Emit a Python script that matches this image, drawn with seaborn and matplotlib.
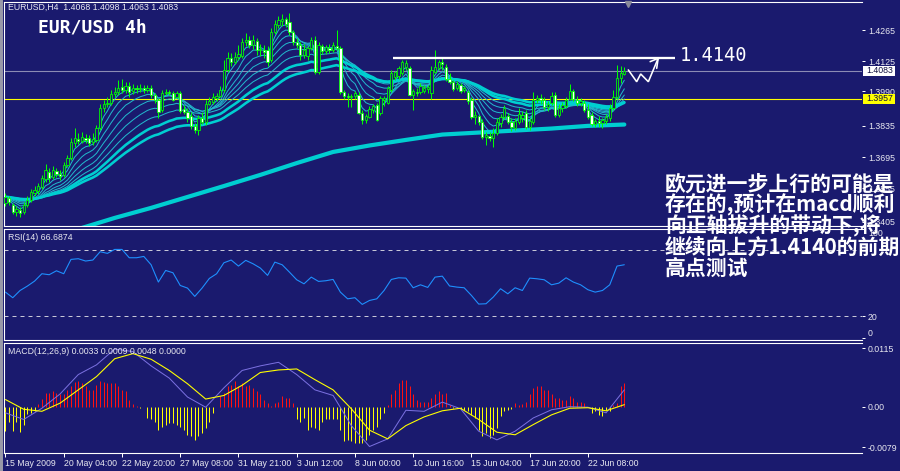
import numpy as np
import pandas as pd
import matplotlib
matplotlib.use("Agg")
import matplotlib.pyplot as plt
from matplotlib.patches import Rectangle
import seaborn as sns

# ---------------- data (EURUSD H4, one entry per bar) ----------------
OPENS = [1.3489, 1.3511, 1.3480, 1.3449, 1.3457, 1.3449, 1.3480, 1.3502, 1.3534, 1.3543,
         1.3561, 1.3597, 1.3628, 1.3606, 1.3633, 1.3619, 1.3615, 1.3659, 1.3691, 1.3758,
         1.3776, 1.3767, 1.3781, 1.3781, 1.3763, 1.3772, 1.3826, 1.3915, 1.3933, 1.3938,
         1.3978, 1.3987, 1.4010, 1.3996, 1.4014, 1.3992, 1.4005, 1.4001, 1.4005, 1.3996,
         1.4005, 1.3974, 1.3951, 1.3906, 1.3983, 1.3987, 1.3983, 1.3965, 1.3983, 1.3911,
         1.3897, 1.3879, 1.3835, 1.3817, 1.3870, 1.3852, 1.3933, 1.3942, 1.3960, 1.3969,
         1.3996, 1.4086, 1.4140, 1.4122, 1.4144, 1.4149, 1.4212, 1.4220, 1.4198, 1.4216,
         1.4176, 1.4176, 1.4176, 1.4131, 1.4256, 1.4288, 1.4306, 1.4315, 1.4301, 1.4256,
         1.4212, 1.4198, 1.4153, 1.4149, 1.4185, 1.4220, 1.4077, 1.4194, 1.4171, 1.4185,
         1.4176, 1.4194, 1.4185, 1.3987, 1.3969, 1.3965, 1.3969, 1.3974, 1.3893, 1.3861,
         1.3875, 1.3906, 1.3929, 1.3893, 1.3951, 1.3938, 1.3996, 1.4054, 1.4059, 1.4072,
         1.4099, 1.4095, 1.3974, 1.3987, 1.3987, 1.3992, 1.4001, 1.3983, 1.4077, 1.4095,
         1.4122, 1.4099, 1.4045, 1.4032, 1.4005, 1.4019, 1.3996, 1.3987, 1.3951, 1.3875,
         1.3879, 1.3852, 1.3785, 1.3790, 1.3781, 1.3803, 1.3848, 1.3875, 1.3879, 1.3852,
         1.3826, 1.3852, 1.3870, 1.3893, 1.3830, 1.3852, 1.3951, 1.3960, 1.3951, 1.3920,
         1.3938, 1.3974, 1.3884, 1.3915, 1.3924, 1.3956, 1.3992, 1.3951, 1.3938, 1.3938,
         1.3906, 1.3884, 1.3843, 1.3857, 1.3848, 1.3857, 1.3870, 1.3915, 1.3965, 1.4050,
         1.4068]
HIGHS = [1.3534, 1.3520, 1.3489, 1.3475, 1.3471, 1.3493, 1.3520, 1.3552, 1.3565, 1.3579,
         1.3615, 1.3664, 1.3646, 1.3655, 1.3646, 1.3637, 1.3673, 1.3704, 1.3781, 1.3826,
         1.3803, 1.3808, 1.3799, 1.3794, 1.3803, 1.3839, 1.3933, 1.3951, 1.3965, 1.3996,
         1.4010, 1.4041, 1.4045, 1.4032, 1.4032, 1.4023, 1.4019, 1.4023, 1.4019, 1.4019,
         1.4019, 1.3983, 1.3960, 1.3996, 1.4001, 1.3996, 1.3992, 1.3992, 1.3992, 1.3929,
         1.3915, 1.3897, 1.3848, 1.3884, 1.3897, 1.3951, 1.3965, 1.3983, 1.3983, 1.4014,
         1.4131, 1.4167, 1.4162, 1.4167, 1.4198, 1.4229, 1.4252, 1.4238, 1.4243, 1.4229,
         1.4203, 1.4198, 1.4194, 1.4274, 1.4310, 1.4328, 1.4337, 1.4324, 1.4342, 1.4265,
         1.4229, 1.4212, 1.4203, 1.4194, 1.4234, 1.4238, 1.4212, 1.4203, 1.4198, 1.4203,
         1.4212, 1.4265, 1.4194, 1.3996, 1.3983, 1.3978, 1.3992, 1.3987, 1.3906, 1.3888,
         1.3924, 1.3933, 1.3938, 1.3969, 1.3969, 1.4014, 1.4086, 1.4081, 1.4104, 1.4131,
         1.4131, 1.4104, 1.4001, 1.4005, 1.4027, 1.4019, 1.4019, 1.4104, 1.4176, 1.4131,
         1.4140, 1.4113, 1.4072, 1.4041, 1.4036, 1.4027, 1.4014, 1.3996, 1.3965, 1.3902,
         1.3884, 1.3866, 1.3808, 1.3808, 1.3826, 1.3870, 1.3888, 1.3929, 1.3893, 1.3870,
         1.3870, 1.3915, 1.3902, 1.3906, 1.3870, 1.3987, 1.3974, 1.3978, 1.3965, 1.3947,
         1.3987, 1.3987, 1.3933, 1.3942, 1.3965, 1.4023, 1.4001, 1.3969, 1.3960, 1.3951,
         1.3933, 1.3897, 1.3866, 1.3879, 1.3870, 1.3888, 1.3933, 1.3996, 1.4108, 1.4104,
         1.4098]
LOWS = [1.3475, 1.3480, 1.3440, 1.3431, 1.3426, 1.3440, 1.3471, 1.3493, 1.3520, 1.3529,
        1.3552, 1.3583, 1.3583, 1.3597, 1.3606, 1.3592, 1.3606, 1.3650, 1.3682, 1.3740,
        1.3754, 1.3758, 1.3758, 1.3745, 1.3749, 1.3763, 1.3817, 1.3897, 1.3920, 1.3929,
        1.3965, 1.3974, 1.3983, 1.3983, 1.3965, 1.3978, 1.3983, 1.3987, 1.3983, 1.3987,
        1.3960, 1.3938, 1.3870, 1.3897, 1.3974, 1.3974, 1.3947, 1.3960, 1.3893, 1.3888,
        1.3852, 1.3821, 1.3803, 1.3794, 1.3843, 1.3839, 1.3929, 1.3933, 1.3947, 1.3965,
        1.3987, 1.4077, 1.4104, 1.4113, 1.4131, 1.4140, 1.4194, 1.4185, 1.4180, 1.4153,
        1.4149, 1.4140, 1.4104, 1.4122, 1.4247, 1.4274, 1.4283, 1.4279, 1.4243, 1.4198,
        1.4185, 1.4131, 1.4140, 1.4131, 1.4176, 1.4068, 1.4068, 1.4158, 1.4158, 1.4162,
        1.4167, 1.4176, 1.3978, 1.3956, 1.3920, 1.3920, 1.3956, 1.3888, 1.3843, 1.3848,
        1.3870, 1.3893, 1.3857, 1.3884, 1.3924, 1.3933, 1.3987, 1.4041, 1.4045, 1.4063,
        1.4086, 1.3969, 1.3906, 1.3969, 1.3978, 1.3983, 1.3983, 1.3956, 1.4072, 1.4086,
        1.4086, 1.4036, 1.4023, 1.3992, 1.3996, 1.3983, 1.3987, 1.3933, 1.3866, 1.3843,
        1.3839, 1.3776, 1.3749, 1.3767, 1.3740, 1.3794, 1.3830, 1.3866, 1.3843, 1.3812,
        1.3817, 1.3843, 1.3852, 1.3821, 1.3817, 1.3843, 1.3938, 1.3933, 1.3906, 1.3902,
        1.3929, 1.3875, 1.3875, 1.3897, 1.3915, 1.3951, 1.3947, 1.3924, 1.3924, 1.3897,
        1.3866, 1.3835, 1.3830, 1.3830, 1.3826, 1.3843, 1.3857, 1.3906, 1.3956, 1.4027,
        1.4063]
CLOSES = [1.3516, 1.3493, 1.3449, 1.3462, 1.3444, 1.3480, 1.3502, 1.3538, 1.3547, 1.3565,
          1.3601, 1.3637, 1.3601, 1.3637, 1.3619, 1.3610, 1.3659, 1.3691, 1.3763, 1.3781,
          1.3767, 1.3785, 1.3772, 1.3758, 1.3776, 1.3826, 1.3915, 1.3933, 1.3938, 1.3978,
          1.3987, 1.4005, 1.3996, 1.4014, 1.3987, 1.4005, 1.4001, 1.4005, 1.3996, 1.4005,
          1.3974, 1.3951, 1.3897, 1.3983, 1.3987, 1.3983, 1.3951, 1.3983, 1.3902, 1.3897,
          1.3870, 1.3835, 1.3817, 1.3870, 1.3852, 1.3933, 1.3947, 1.3965, 1.3969, 1.3996,
          1.4086, 1.4140, 1.4122, 1.4144, 1.4158, 1.4212, 1.4220, 1.4198, 1.4220, 1.4176,
          1.4180, 1.4167, 1.4122, 1.4256, 1.4292, 1.4310, 1.4315, 1.4292, 1.4256, 1.4212,
          1.4198, 1.4153, 1.4176, 1.4185, 1.4220, 1.4077, 1.4198, 1.4171, 1.4189, 1.4176,
          1.4198, 1.4185, 1.3987, 1.3969, 1.3965, 1.3969, 1.3983, 1.3893, 1.3861, 1.3879,
          1.3911, 1.3924, 1.3861, 1.3960, 1.3960, 1.4005, 1.4072, 1.4077, 1.4095, 1.4122,
          1.4117, 1.3974, 1.3992, 1.3983, 1.4014, 1.4005, 1.4010, 1.4086, 1.4099, 1.4122,
          1.4113, 1.4045, 1.4032, 1.4001, 1.4023, 1.3992, 1.4005, 1.3947, 1.3875, 1.3884,
          1.3852, 1.3785, 1.3794, 1.3781, 1.3803, 1.3852, 1.3875, 1.3915, 1.3852, 1.3830,
          1.3857, 1.3888, 1.3884, 1.3830, 1.3857, 1.3951, 1.3960, 1.3951, 1.3920, 1.3933,
          1.3969, 1.3884, 1.3915, 1.3929, 1.3951, 1.3992, 1.3956, 1.3938, 1.3947, 1.3906,
          1.3875, 1.3843, 1.3857, 1.3848, 1.3861, 1.3875, 1.3915, 1.3965, 1.4050, 1.4072,
          1.4083]

# long moving average read every 10 bars, starting at bar 20
LONG_MA = [1.3372, 1.3422, 1.3467, 1.3516, 1.3565, 1.3615, 1.3668, 1.3718,
           1.3747, 1.3772, 1.3796, 1.3805, 1.3814, 1.3823, 1.3835, 1.3841]
THIN_SPANS = [4, 7, 11, 16, 22, 29]
THICK_SPANS = [38, 48]

# RSI(14) read every 2 bars
RSI = [41.9, 36.8, 43.4, 47.4, 52.0, 58.7, 57.8, 61.4, 58.7, 71.8,
       72.4, 70.3, 71.2, 78.8, 77.3, 80.9, 80.9, 73.3, 73.3, 74.5,
       66.9, 51.1, 61.7, 59.6, 48.0, 45.6, 38.0, 45.6, 54.4, 58.7,
       68.7, 71.2, 65.7, 70.9, 67.8, 63.9, 57.2, 69.3, 66.9, 60.2,
       53.2, 49.5, 55.6, 51.7, 52.3, 53.5, 41.9, 35.8, 36.8, 30.7,
       34.3, 35.8, 43.4, 53.5, 55.0, 54.7, 45.9, 48.6, 46.2, 55.6,
       56.5, 47.5, 46.5, 45.9, 38.9, 31.0, 31.3, 37.4, 45.0, 40.4,
       45.9, 43.4, 54.7, 54.1, 53.2, 48.6, 50.1, 55.0, 51.1, 48.6,
       44.1, 41.9, 43.4, 48.6, 65.7, 66.9]

# MACD(12,26,9) lines read every 5 bars
MACD_MAIN = [-0.0012, -0.0025, -0.0003, 0.0025, 0.0063, 0.0082, 0.0113, 0.0108, 0.0080, 0.0056,
             0.0019, -0.0001, 0.0037, 0.0071, 0.0080, 0.0087, 0.0063, 0.0033, 0.0022, -0.0037,
             -0.0078, -0.0063, -0.0007, -0.0009, 0.0009, -0.0004, -0.0048, -0.0065, -0.0048, -0.0022,
             -0.0006, 0.0000, -0.0001, -0.0012, 0.0033]
MACD_SIGNAL = [0.0014, -0.0005, -0.0009, 0.0007, 0.0033, 0.0059, 0.0094, 0.0104, 0.0093, 0.0071,
               0.0045, 0.0015, 0.0022, 0.0042, 0.0067, 0.0072, 0.0074, 0.0053, 0.0033, -0.0004,
               -0.0046, -0.0063, -0.0037, -0.0020, -0.0008, -0.0003, -0.0025, -0.0050, -0.0055, -0.0035,
               -0.0016, -0.0003, -0.0002, -0.0008, 0.0004]
# MACD histogram, one value per bar
MACD_HIST = [-0.0048, -0.0030, -0.0048, -0.0030, -0.0050, -0.0035, -0.0015, -0.0012, -0.0009, 0.0005,
             0.0016, 0.0027, 0.0027, 0.0030, 0.0027, 0.0024, 0.0024, 0.0033, 0.0040, 0.0048,
             0.0050, 0.0046, 0.0040, 0.0033, 0.0033, 0.0043, 0.0050, 0.0048, 0.0046, 0.0046,
             0.0046, 0.0040, 0.0033, 0.0030, 0.0014, 0.0006, 0.0001, -0.0003, 0.0000, -0.0022,
             -0.0025, -0.0030, -0.0045, -0.0040, -0.0035, -0.0032, -0.0032, -0.0035, -0.0039, -0.0045,
             -0.0055, -0.0058, -0.0065, -0.0058, -0.0052, -0.0042, -0.0029, -0.0012, 0.0000, 0.0020,
             0.0027, 0.0040, 0.0043, 0.0050, 0.0040, 0.0046, 0.0040, 0.0043, 0.0037, 0.0030,
             0.0024, 0.0014, 0.0007, 0.0001, 0.0007, 0.0010, 0.0020, 0.0017, 0.0017, 0.0007,
             -0.0025, -0.0029, -0.0022, -0.0045, -0.0039, -0.0042, -0.0045, -0.0029, -0.0025, -0.0025,
             -0.0025, -0.0025, -0.0045, -0.0068, -0.0065, -0.0068, -0.0071, -0.0071, -0.0071, -0.0065,
             -0.0055, -0.0045, -0.0039, -0.0025, -0.0012, 0.0004, 0.0024, 0.0033, 0.0046, 0.0053,
             0.0053, 0.0040, 0.0024, 0.0014, 0.0010, 0.0010, 0.0010, 0.0017, 0.0024, 0.0030,
             0.0024, 0.0027, 0.0004, -0.0002, -0.0003, -0.0005, -0.0006, -0.0009, -0.0016, -0.0022,
             -0.0045, -0.0058, -0.0052, -0.0061, -0.0055, -0.0042, -0.0019, -0.0009, -0.0006, -0.0004,
             0.0007, 0.0004, 0.0005, 0.0010, 0.0024, 0.0037, 0.0040, 0.0040, 0.0033, 0.0033,
             0.0024, 0.0017, 0.0017, 0.0014, 0.0014, 0.0020, 0.0017, 0.0010, 0.0010, 0.0007,
             0.0000, -0.0012, -0.0009, -0.0016, -0.0019, -0.0006, -0.0009, 0.0004, 0.0007, 0.0040,
             0.0046]

DATE_LABELS = ["15 May 2009", "20 May 04:00", "22 May 20:00", "27 May 08:00", "31 May 21:00",
               "3 Jun 12:00", "8 Jun 00:00", "10 Jun 16:00", "15 Jun 04:00", "17 Jun 20:00",
               "22 Jun 08:00"]
PRICE_TICKS = [1.4265, 1.4125, 1.3990, 1.3835, 1.3695, 1.3555, 1.3405]
MACD_TICKS = [0.0115, 0.0, -0.0079]
MACD_TICK_LABELS = ["0.0115", "0.00", "-0.0079"]
RSI_TICKS = [0, 20, 100]
RSI_LEVELS = [20, 80]
LAST_PRICE = 1.4083
YELLOW_LEVEL = 1.3957
TARGET = 1.4140
HEADER = "EURUSD,H4  1.4068 1.4098 1.4063 1.4083"
RSI_TITLE = "RSI(14) 66.6874"
MACD_TITLE = "MACD(12,26,9) 0.0033 0.0009 0.0048 0.0000"
NOTE_LINES = ["欧元进一步上行的可能是", "存在的,预计在macd顺利", "向正轴拔升的带动下,将",
              "继续向上方1.4140的前期", "高点测试"]

# ---------------- styling ----------------
sns.set_style("dark")
plt.rcParams['font.family'] = ['Liberation Sans', 'DejaVu Sans']
BG = '#1a1a6e'
LIME = '#00ff00'
CYAN = '#00ced1'
THIN = '#22b8cc'
TXT = '#e8e8f0'
PX = 0.72  # one pixel in points

W, H = 900, 471
fig = plt.figure(figsize=(9, 4.71), dpi=100, facecolor=BG)


def axes_px(x0, y0, x1, y1):
    return fig.add_axes([x0 / W, 1 - y1 / H, (x1 - x0) / W, (y1 - y0) / H])


ax = axes_px(4, 1.5, 862, 225.5)
ax_rsi = axes_px(4, 228.5, 862, 340)
ax_macd = axes_px(4, 342.5, 862, 453)

n = len(CLOSES)
bars = np.arange(n)
XLIM = (-0.41, 235.3)

for a in (ax, ax_rsi, ax_macd):
    a.set_facecolor(BG)
    a.grid(False)
    for side in ('top', 'bottom', 'left'):
        a.spines[side].set_visible(True)
        a.spines[side].set_color('white')
        a.spines[side].set_linewidth(1.1 * PX)
    a.spines['right'].set_visible(False)

# ---------------- main price panel ----------------
o = np.array(OPENS); h = np.array(HIGHS); l = np.array(LOWS); c = np.array(CLOSES)
close_s = pd.Series(c)

for span in THIN_SPANS:
    sns.lineplot(x=bars, y=close_s.ewm(span=span, adjust=False).mean().values, ax=ax,
                 color=THIN, linewidth=1.0 * PX, legend=False, zorder=2)
for span in THICK_SPANS:
    sns.lineplot(x=bars, y=close_s.ewm(span=span, adjust=False).mean().values, ax=ax,
                 color=CYAN, linewidth=2.6 * PX, legend=False, zorder=2)
sns.lineplot(x=np.arange(20, n, 10), y=LONG_MA, ax=ax, color=CYAN,
             linewidth=4.2 * PX, legend=False, zorder=2)

ax.axhline(LAST_PRICE, color='#8c8cb4', lw=1.1 * PX, zorder=1)
ax.axhline(YELLOW_LEVEL, color='#ffff00', lw=1.1 * PX, zorder=1)

up = c >= o
ax.vlines(bars, l, h, color=LIME, lw=1.0 * PX, zorder=4)
body = np.maximum(np.abs(c - o), 0.00012)
ax.bar(bars[up], body[up], bottom=o[up], width=0.62, color=BG, edgecolor=LIME,
       linewidth=0.8 * PX, zorder=5)
ax.bar(bars[~up], body[~up], bottom=c[~up], width=0.62, color='white', edgecolor=LIME,
       linewidth=0.8 * PX, zorder=5)

# annotation: target line and zig-zag arrow
ax.hlines(TARGET, 106.5, 183.9, color='white', lw=2.3 * PX, zorder=6)
zz_x = [171.1, 173.4, 174.5, 176.6, 179.3]
zz_y = [1.4086, 1.4033, 1.4068, 1.4033, 1.4138]
ax.plot(zz_x, zz_y, color='white', lw=1.6 * PX, zorder=6, solid_joinstyle='miter')
ax.plot([177.1, 179.3, 178.9], [1.4123, 1.4138, 1.4093], color='white', lw=1.6 * PX, zorder=6)
ax.plot([171.0], [1.4383], marker='v', color='#8a8a9a', ms=5, zorder=7, clip_on=False)

ax.set_xlim(*XLIM)
ax.set_ylim(1.3388, 1.4393)
ax.set_xticks([])
ax.yaxis.tick_right()
ax.set_yticks(PRICE_TICKS)
ax.set_yticklabels([f"{v:.4f}" for v in PRICE_TICKS])
ax.tick_params(axis='y', colors='white', labelcolor=TXT, labelsize=6.3, length=2, width=PX, pad=2.2)
ax.set_xlabel(''); ax.set_ylabel('')

# ---------------- RSI panel ----------------
sns.lineplot(x=np.arange(0, n, 2), y=RSI, ax=ax_rsi, color='#1e90ff', linewidth=1.1 * PX,
             legend=False, zorder=3)
for lev in RSI_LEVELS:
    ax_rsi.axhline(lev, color='#c8c8d8', lw=1.0 * PX, ls=(0, (4, 4)), zorder=2)
ax_rsi.set_xlim(*XLIM)
ax_rsi.set_ylim(-1.8, 99.6)
ax_rsi.set_xticks([])
ax_rsi.yaxis.tick_right()
ax_rsi.set_yticks(RSI_TICKS)
ax_rsi.set_yticklabels([str(v) for v in RSI_TICKS])
ax_rsi.tick_params(axis='y', colors='white', labelcolor=TXT, labelsize=6.3, length=2, width=PX, pad=2.2)
labs = ax_rsi.get_yticklabels()
labs[0].set_va('bottom')
labs[2].set_va('top')
ax_rsi.set_xlabel(''); ax_rsi.set_ylabel('')

# ---------------- MACD panel ----------------
hist = np.array(MACD_HIST)
ax_macd.vlines(bars, 0, hist, colors=np.where(hist >= 0, '#ff1010', '#ffff00'),
               lw=1.0 * PX, zorder=2)
sns.lineplot(x=np.arange(0, n, 5), y=MACD_MAIN, ax=ax_macd, color='#7a70e0',
             linewidth=1.0 * PX, legend=False, zorder=3)
sns.lineplot(x=np.arange(0, n, 5), y=MACD_SIGNAL, ax=ax_macd, color='#ffff00',
             linewidth=1.1 * PX, legend=False, zorder=4)
ax_macd.set_xlim(*XLIM)
ax_macd.set_ylim(-0.00907, 0.01258)
ax_macd.yaxis.tick_right()
ax_macd.set_yticks(MACD_TICKS)
ax_macd.set_yticklabels(MACD_TICK_LABELS)
ax_macd.tick_params(axis='y', colors='white', labelcolor=TXT, labelsize=6.3, length=2, width=PX, pad=2.2)
ax_macd.set_xticks(np.arange(0, 16 * len(DATE_LABELS), 16))
ax_macd.set_xticklabels(DATE_LABELS)
ax_macd.tick_params(axis='x', colors='white', labelcolor=TXT, labelsize=6.3, length=3, width=PX,
                    pad=1.5, direction='out', bottom=True)
for lab in ax_macd.get_xticklabels():
    lab.set_ha('left')
ax_macd.set_xlabel(''); ax_macd.set_ylabel('')

# ---------------- figure-level decorations ----------------
fig.patches.append(Rectangle((0, 0), 3 / W, 1, transform=fig.transFigure,
                             fc='#9898a8', ec='none', zorder=1))
fig.patches.append(Rectangle((863 / W, 1 - 76 / H), 32 / W, 10.5 / H, transform=fig.transFigure,
                             fc='white', ec='none', zorder=5))
fig.patches.append(Rectangle((863 / W, 1 - 104 / H), 32 / W, 10.5 / H, transform=fig.transFigure,
                             fc='#ffff00', ec='none', zorder=5))
fig.text(866 / W, 1 - 70.8 / H, f"{LAST_PRICE:.4f}", color='#101040', fontsize=6.3,
         va='center', ha='left', zorder=6)
fig.text(866 / W, 1 - 98.8 / H, f"{YELLOW_LEVEL:.4f}", color='#101040', fontsize=6.3,
         va='center', ha='left', zorder=6)

fig.text(8 / W, 1 - 7 / H, HEADER, color=TXT, fontsize=6.3, va='center', ha='left', zorder=6)
fig.text(8 / W, 1 - 237 / H, RSI_TITLE, color=TXT, fontsize=6.3, va='center', ha='left', zorder=6)
fig.text(8 / W, 1 - 352 / H, MACD_TITLE, color=TXT, fontsize=6.3, va='center', ha='left', zorder=6)

fig.text(38 / W, 1 - 27.5 / H, "EUR/USD 4h", color='white', fontsize=13,
         family='DejaVu Sans Mono', weight='bold', va='center', ha='left', zorder=6)
fig.text(680 / W, 1 - 55.5 / H, f"{TARGET:.4f}", color='white', fontsize=13.5,
         family='DejaVu Sans Mono', va='center', ha='left', zorder=6)

for i, line in enumerate(NOTE_LINES):
    fig.text(665 / W, 1 - (184 + 21 * i) / H, line, color='white', fontsize=15,
             family=['Noto Sans CJK SC', 'DejaVu Sans'], weight='bold',
             va='center', ha='left', zorder=7)

fig.savefig('out.png', dpi=100, facecolor=BG)
